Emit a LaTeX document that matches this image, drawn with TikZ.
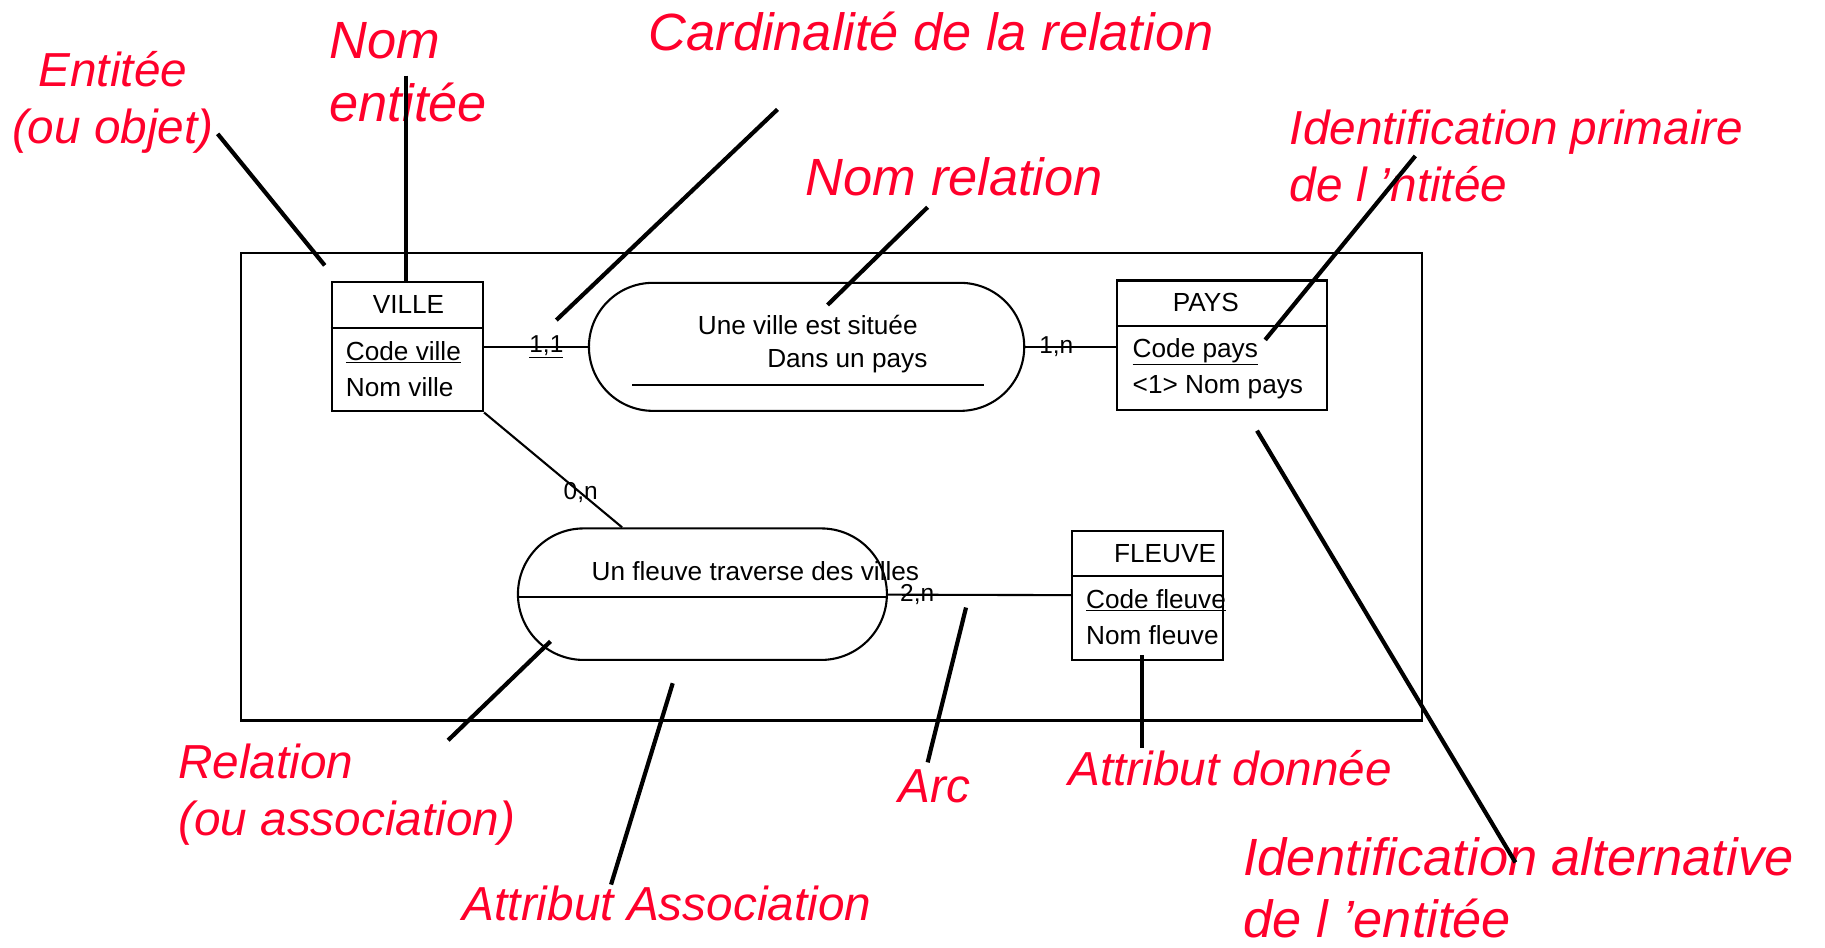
\documentclass[tikz,border=0pt]{standalone}
\usepackage{fontspec}
\setmainfont{Liberation Sans}
\usetikzlibrary{calc,positioning,shapes.misc}
\definecolor{annot}{RGB}{255,0,43}
\tikzset{every picture/.style={
  line join=miter                % Sharp box corners.
  }
}

\begin{document}
\begin{tikzpicture}[
      x=1pt, y=-1pt,
      entity/.style={
        draw,
        line width=1.8pt,
        minimum width=#1,
        minimum height=111pt,
        inner sep=0pt
      },
      relation/.style={
        draw,
        line width=1.8pt,
        rounded rectangle,
        inner sep=0pt
      },
      link/.style={line width=1.8pt},
      txt/.style={font=\fontsize{22.5}{27}\selectfont, inner sep=0pt},
      card/.style={font=\fontsize{21}{25}\selectfont, inner sep=0pt},
      remark/.style n args={2}{
        text=annot,
        font=\fontsize{#1}{#2}\selectfont\itshape,
        inner sep=0pt
      },
      pointer/.style={line width=3.6pt}]

      \useasboundingbox (0,0) rectangle (1568,814);

      % Draw the frame around the model.
      \node[draw, line width=1.8pt, minimum width=1015pt, minimum height=402pt,
        inner sep=0pt] (frame) at (714.5,418) {};

      % Draw the entities.
      \node[entity=130pt] (ville) at (350,298) {};
      \node[entity=180pt] (pays) at (1050,296.5) {};
      \node[entity=130pt] (fleuve) at (986,511.5) {};
      \foreach \e in {ville,pays,fleuve}
        \draw[link] ([yshift=-40pt] \e.north west) -- ([yshift=-40pt] \e.north east);

      \node[txt, anchor=base] (villeName) at (351,269) {VILLE};
      \node[txt, anchor=base west] (villeCode) at (297,310) {\underline{Code ville}};
      \node[txt, anchor=base west] (villeNom) at (297,341) {Nom ville};

      \node[txt, anchor=base] (paysName) at (1036,268) {PAYS};
      \node[txt, anchor=base west] (paysCode) at (973,307) {\underline{Code pays}};
      \node[txt, anchor=base west] (paysNom) at (973,338) {<1> Nom pays};

      \node[txt, anchor=base] (fleuveName) at (1001,483) {FLEUVE};
      \node[txt, anchor=base west] (fleuveCode) at (933,523) {\underline{Code fleuve}};
      \node[txt, anchor=base west] (fleuveNom) at (933,554) {Nom fleuve};

      % Draw the relations.
      \node[relation, minimum width=374pt, minimum height=110pt] (situe) at (693,298) {};
      \node[relation, minimum width=317pt, minimum height=113pt] (traverse) at (603.5,510.5) {};

      \node[txt, anchor=base] (situeA) at (694,287) {Une ville est située};
      \node[txt, anchor=base] (situeB) at (728,316) {Dans un pays};
      \draw[link] ($(situe)+(-150,33)$) -- ($(situe)+(152,33)$);

      \node[txt, anchor=base] (traverseA) at (649,499) {Un fleuve traverse des villes};
      \draw[link] ([yshift=-2.5pt] traverse.west) -- ([yshift=-2.5pt] traverse.east);

      % Draw the arcs with their cardinalities.
      \draw[link] (ville.east) -- (situe.west)
        node[card, pos=0.6] (cVille) {\underline{1,1}};
      \draw[link] (situe.east) -- (situe.east -| pays.west)
        node[card, pos=0.34] (cPays) {1,n};
      \draw[link] (ville.south east) -- (traverse)
        node[card, pos=0.7] (cVille2) {0,n};
      \draw[link] (traverse) -- (fleuve)
        node[card, pos=0.16] (cFleuve) {2,n};

      % Render the remarks.
      \node[remark={41}{49}, align=center] (rEnt) at (97,88) {Entitée\\(ou objet)};
      \node[remark={45}{54}, align=left, anchor=west] (rNom) at (283,62) {Nom\\entitée};
      \node[remark={45}{54}] (rCard) at (800,27) {Cardinalité de la relation};
      \node[remark={45}{54}] (rNomRel) at (820,152) {Nom relation};
      \node[remark={41}{49}, align=left, anchor=west] (rIdPrim) at (1108,134)
        {Identification primaire\\de l ’ntitée};
      \node[remark={45}{53}, align=left, anchor=west] (rIdAlt) at (1068,763)
        {Identification alternative\\de l ’entitée};
      \node[remark={41}{49}, align=left, anchor=west] (rRel) at (153,683)
        {Relation\\(ou association)};
      \node[remark={41}{49}] (rAttrAssoc) at (573,776) {Attribut Association};
      \node[remark={41}{49}] (rArc) at (803,676) {Arc};
      \node[remark={41}{49}] (rAttrDon) at (1057,660) {Attribut donnée};

      % Draw the pointers.
      \def\pin#1#2#3{           % Helper macro.
        \coordinate (#1a) at #2;
        \coordinate (#1b) at #3;
        \draw[pointer] (#1a) -- (#1b);
      }

      \pin{ent}{(187,115)}{(279,228)}
      \pin{nom}{(349,65)}{(349,243)}
      \pin{card}{(668,94)}{(478,275)}
      \pin{nomRel}{(797,178)}{(711,262)}
      \pin{idPrim}{(1216,134)}{(1087,292)}
      \pin{idAlt}{(1080,370)}{(1302,741)}
      \pin{rel}{(473,551)}{(385,636)}
      \pin{attrAssoc}{(578,587)}{(525,760)}
      \pin{arc}{(830,522)}{(797,655)}
      \pin{attrDon}{(981,563)}{(981,643)}

    \end{tikzpicture}
\end{document}
